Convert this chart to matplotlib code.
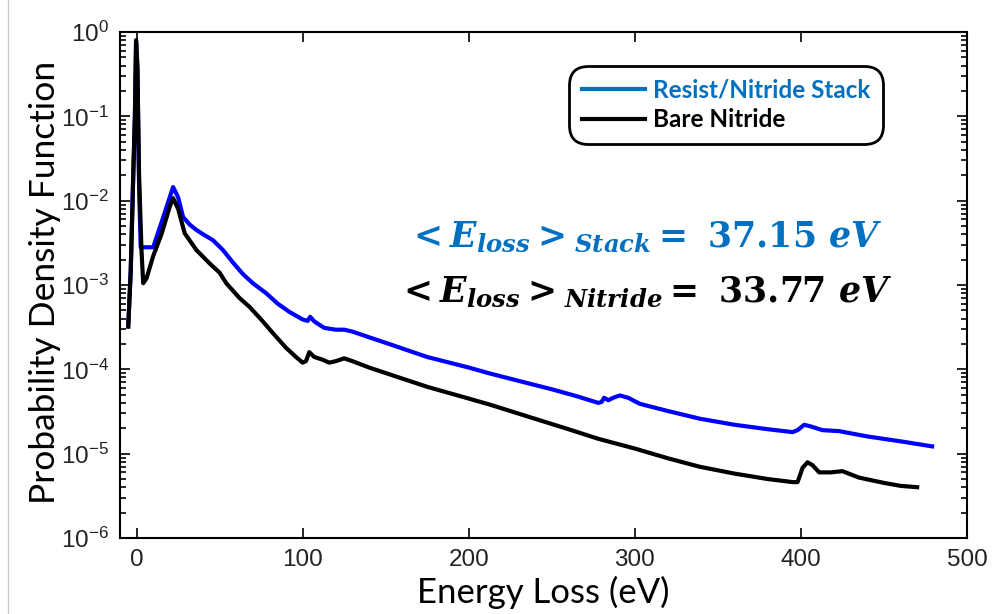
import numpy as np
import matplotlib
matplotlib.use("Agg")
import matplotlib.pyplot as plt
from matplotlib.lines import Line2D

plt.rcParams['mathtext.fontset'] = 'custom'
plt.rcParams['mathtext.it'] = 'DejaVu Serif:italic:bold'
plt.rcParams['mathtext.rm'] = 'DejaVu Serif:bold'
plt.rcParams['mathtext.bf'] = 'DejaVu Serif:italic:bold'
plt.rcParams['axes.unicode_minus'] = False

# Resist/Nitride stack (blue)
stack_x = [-5, -3.5, -2, -1, -0.3, 0.5, 1.5, 2.5, 5, 10, 15, 20, 22, 25, 28, 32,
           36, 40, 46, 52, 58, 64, 70, 78, 85, 92, 100, 103, 104.5, 107, 113,
           120, 125, 130, 140, 152, 175, 200, 212, 230, 250, 265, 278, 280,
           281.5, 284, 287, 291, 296, 303, 320, 339, 360, 380, 395, 398, 402,
           406, 413, 423, 440, 460, 479]
stack_y = [3.3e-4, 1.5e-3, 2e-2, 0.1, 0.75, 0.35, 1.5e-2, 2.8e-3, 2.8e-3,
           2.8e-3, 5.5e-3, 1.1e-2, 1.45e-2, 1.1e-2, 6.4e-3, 5.2e-3, 4.5e-3,
           4.0e-3, 3.4e-3, 2.6e-3, 1.85e-3, 1.35e-3, 1.05e-3, 8.0e-4, 6.0e-4,
           4.8e-4, 3.9e-4, 3.75e-4, 4.2e-4, 3.7e-4, 3.1e-4, 2.95e-4, 2.95e-4,
           2.8e-4, 2.4e-4, 2.0e-4, 1.4e-4, 1.05e-4, 9.0e-5, 7.3e-5, 5.8e-5,
           4.8e-5, 4.0e-5, 4.1e-5, 4.6e-5, 4.3e-5, 4.6e-5, 4.9e-5, 4.6e-5,
           3.9e-5, 3.2e-5, 2.6e-5, 2.2e-5, 1.95e-5, 1.8e-5, 1.9e-5, 2.2e-5,
           2.1e-5, 1.9e-5, 1.85e-5, 1.6e-5, 1.4e-5, 1.22e-5]

# Bare nitride (black)
nitride_x = [-5, -3.5, -2, -1, -0.3, 0.5, 1.5, 3, 4, 6, 10, 15, 20, 22, 25, 29,
             36, 44, 50, 54, 62, 68, 75, 82, 90, 96, 100, 102, 104, 107, 112,
             116, 120, 125, 130, 140, 154, 175, 200, 213, 237, 260, 278, 300,
             320, 339, 360, 380, 395, 398, 401, 404, 407, 411, 418, 425, 435,
             450, 460, 470]
nitride_y = [3.2e-4, 1.5e-3, 2e-2, 0.1, 0.8, 0.4, 2e-2, 2.5e-3, 1.05e-3,
             1.2e-3, 2.2e-3, 4.0e-3, 8.5e-3, 1.07e-2, 8e-3, 4.1e-3, 2.6e-3,
             1.8e-3, 1.4e-3, 1.05e-3, 7e-4, 5.5e-4, 3.9e-4, 2.7e-4, 1.8e-4,
             1.4e-4, 1.2e-4, 1.25e-4, 1.6e-4, 1.4e-4, 1.3e-4, 1.2e-4, 1.25e-4,
             1.35e-4, 1.25e-4, 1.05e-4, 8.5e-5, 6.2e-5, 4.5e-5, 3.8e-5, 2.7e-5,
             1.95e-5, 1.5e-5, 1.15e-5, 8.8e-6, 7.0e-6, 5.8e-6, 5.0e-6, 4.6e-6,
             4.6e-6, 6.8e-6, 7.9e-6, 7.3e-6, 6.0e-6, 6.0e-6, 6.2e-6, 5.2e-6,
             4.5e-6, 4.15e-6, 4.0e-6]

labels = ["Resist/Nitride Stack", "Bare Nitride"]
stack_mean = 37.15
nitride_mean = 33.77

label_blue = "#0070C0"

fig = plt.figure(figsize=(9.93, 6.14), dpi=100)
ax = fig.add_axes([0.1208, 0.1238, 0.853, 0.8241])

ax.plot(stack_x, stack_y, color="#0000FF", lw=3)
ax.plot(nitride_x, nitride_y, color="black", lw=3)

ax.set_yscale("log")
ax.set_xlim(-10, 500)
ax.set_ylim(1e-6, 1)
ax.set_xticks([0, 100, 200, 300, 400, 500])

ax.tick_params(which="both", direction="in", top=True, right=True,
               labelsize=17.5, width=1.2)
ax.tick_params(which="major", length=7, pad=8)
ax.tick_params(which="minor", length=4)
ax.xaxis.set_minor_locator(matplotlib.ticker.NullLocator())
for lab in ax.get_xticklabels() + ax.get_yticklabels():
    lab.set_family("Liberation Sans")
    lab.set_color("#222222")
for s in ax.spines.values():
    s.set_linewidth(1.5)

ax.set_xlabel("Energy Loss (eV)", fontsize=25, family="Lato")
ax.set_ylabel("Probability Density Function", fontsize=25.5, family="Lato")
ax.xaxis.set_label_coords(0.5, -0.075)
ax.yaxis.set_label_coords(-0.07, 0.505)

handles = [Line2D([], [], color=label_blue, lw=3),
           Line2D([], [], color="black", lw=3)]
leg = ax.legend(handles, labels, loc="upper right",
                bbox_to_anchor=(0.91, 0.948), fancybox=True, framealpha=1,
                edgecolor="black", handlelength=2.6, handletextpad=0.3,
                borderpad=0.35, labelspacing=0.25,
                prop={"family": "Lato", "weight": "bold", "size": 17.5})
leg.get_frame().set_linewidth(2)
leg.get_frame().set_boxstyle("round,pad=0.2,rounding_size=0.8")
leg.get_texts()[0].set_color(label_blue)

ax.text(0.619, 0.574,
        r"$<\mathit{E}_{\mathit{loss}}>_{\mathit{Stack}}\mathrm{=\ %.2f\ }\mathit{eV}$" % stack_mean,
        transform=ax.transAxes, fontsize=25, color=label_blue, ha="center")
ax.text(0.619, 0.465,
        r"$<\mathit{E}_{\mathit{loss}}>_{\mathit{Nitride}}\mathrm{=\ %.2f\ }\mathit{eV}$" % nitride_mean,
        transform=ax.transAxes, fontsize=25, color="black", ha="center")

fig.add_artist(Line2D([0.008, 0.008], [0, 1], transform=fig.transFigure,
                      color="#cccccc", lw=1))

fig.savefig("out.png", dpi=100)
